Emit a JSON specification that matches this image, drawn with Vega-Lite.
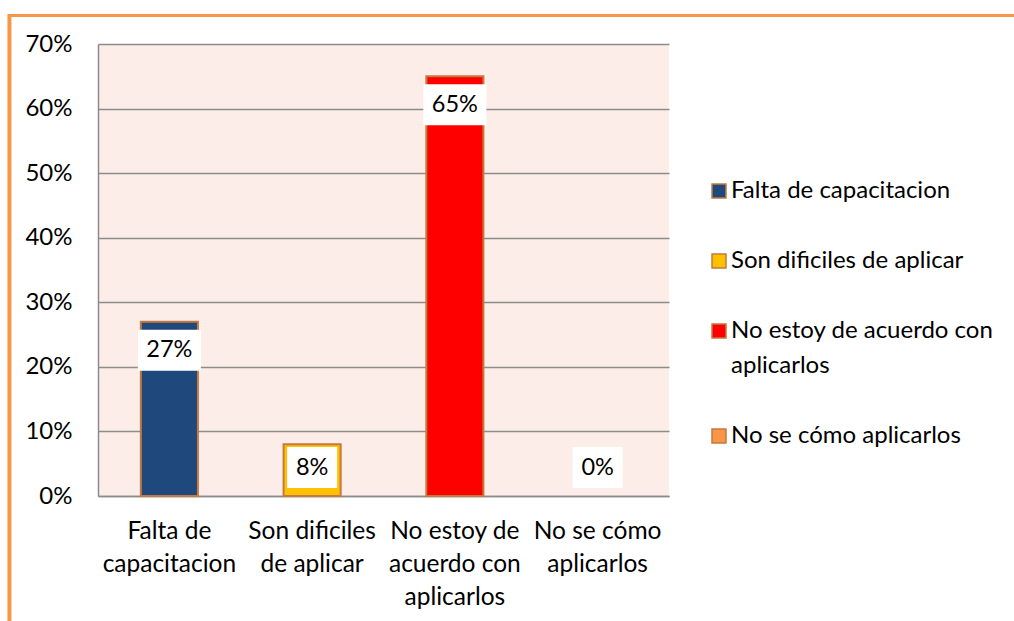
{
  "$schema": "https://vega.github.io/schema/vega-lite/v6.json",
  "autosize": {"type": "none"},
  "width": 571,
  "height": 452,
  "padding": {"left": 98, "top": 44, "right": 345, "bottom": 125},
  "background": "white",
  "config": {
    "font": "Lato",
    "view": {"stroke": null, "fill": "#FCEDE9"},
    "style": {"guide-label": {"lineHeight": 35}}
  },
  "data": {
    "values": [
      {"categoria": "Falta de capacitacion", "valor": 0.27},
      {"categoria": "Son dificiles de aplicar", "valor": 0.08},
      {"categoria": "No estoy de acuerdo con aplicarlos", "valor": 0.65},
      {"categoria": "No se cómo aplicarlos", "valor": 0.0}
    ]
  },
  "layer": [
    {
      "encoding": {
        "x": {
          "field": "categoria",
          "type": "nominal",
          "sort": ["Falta de capacitacion", "Son dificiles de aplicar", "No estoy de acuerdo con aplicarlos", "No se cómo aplicarlos"],
          "scale": {"paddingInner": 0.6, "paddingOuter": 0.3},
          "axis": {
            "title": null,
            "labelAngle": 0,
            "ticks": false,
            "domain": true,
            "domainColor": "#8C8C8C",
            "domainWidth": 1.5,
            "labelFont": "Lato",
            "labelFontSize": 24.5,
            "labelColor": "#000000",
            "labelPadding": 23.5,
            "labelLineHeight": 33,
            "labelLimit": 0,
            "labelExpr": "datum.value == 'Falta de capacitacion' ? ['Falta de', 'capacitacion'] : datum.value == 'Son dificiles de aplicar' ? ['Son dificiles', 'de aplicar'] : datum.value == 'No estoy de acuerdo con aplicarlos' ? ['No estoy de', 'acuerdo con', 'aplicarlos'] : ['No se cómo', 'aplicarlos']"
          }
        }
      },
      "layer": [
        {
          "mark": {"type": "bar", "strokeWidth": 2},
          "encoding": {
            "y": {
              "field": "valor",
              "type": "quantitative",
              "scale": {"domain": [0, 0.7], "nice": false},
              "axis": {
                "title": null,
                "format": ".0%",
                "values": [0, 0.1, 0.2, 0.3, 0.4, 0.5, 0.6, 0.7],
                "ticks": false,
                "grid": true,
                "gridColor": "#8C8C8C",
                "gridWidth": 1.5,
                "domain": true,
                "domainColor": "#8C8C8C",
                "domainWidth": 1.5,
                "labelFont": "Lato",
                "labelFontSize": 24,
                "labelColor": "#000000",
                "labelPadding": 26
              }
            },
            "stroke": {"condition": {"test": "datum.valor == 0", "value": "transparent"}, "value": "#C47A3E"},
            "color": {
              "field": "categoria",
              "type": "nominal",
              "scale": {
                "domain": ["Falta de capacitacion", "Son dificiles de aplicar", "No estoy de acuerdo con aplicarlos", "No se cómo aplicarlos"],
                "range": ["#1F497D", "#FFC000", "#FF0000", "#F79646"]
              },
              "legend": {
                "title": null,
                "orient": "none",
                "legendX": 609,
                "legendY": 135,
                "padding": 0,
                "symbolType": "square",
                "symbolSize": 196,
                "symbolStrokeColor": "#C47A3E",
                "symbolStrokeWidth": 1.5,
                "symbolOpacity": 1,
                "labelFont": "Lato",
                "labelFontSize": 24,
                "labelColor": "#000000",
                "labelOffset": 0,
                "labelLimit": 0,
                "rowPadding": 46,
                "labelExpr": "datum.value == 'No estoy de acuerdo con aplicarlos' ? ['No estoy de acuerdo con', 'aplicarlos'] : datum.value"
              }
            }
          }
        },
        {
          "transform": [{"filter": "datum.valor >= 0.1"}],
          "mark": {"type": "point", "shape": "M-1,-0.651L1,-0.651L1,0.651L-1,0.651Z", "size": 3969, "filled": true, "fill": "white", "opacity": 1, "strokeWidth": 0, "yOffset": 28.5},
          "encoding": {"y": {"field": "valor", "type": "quantitative"}}
        },
        {
          "transform": [{"filter": "datum.valor >= 0.1"}],
          "mark": {"type": "text", "font": "Lato", "fontSize": 23.5, "color": "#000000", "baseline": "middle", "align": "center", "yOffset": 28.5},
          "encoding": {
            "y": {"field": "valor", "type": "quantitative"},
            "text": {"field": "valor", "type": "quantitative", "format": ".0%"}
          }
        },
        {
          "transform": [{"filter": "datum.valor < 0.1"}],
          "mark": {"type": "point", "shape": "M-1,-0.82L1,-0.82L1,0.82L-1,0.82Z", "size": 2500, "filled": true, "fill": "white", "opacity": 1, "strokeWidth": 0},
          "encoding": {"y": {"datum": 0.044, "type": "quantitative"}}
        },
        {
          "transform": [{"filter": "datum.valor < 0.1"}],
          "mark": {"type": "text", "font": "Lato", "fontSize": 23.5, "color": "#000000", "baseline": "middle", "align": "center"},
          "encoding": {
            "y": {"datum": 0.044, "type": "quantitative"},
            "text": {"field": "valor", "type": "quantitative", "format": ".0%"}
          }
        }
      ]
    },
    {
      "data": {"values": [{}]},
      "mark": {"type": "rule", "color": "#F79646", "strokeWidth": 3, "strokeCap": "butt"},
      "encoding": {
        "x": {"datum": -0.1577, "type": "quantitative", "scale": {"domain": [0, 1], "nice": false, "zero": false}, "axis": null},
        "x2": {"datum": 1.7},
        "y": {"datum": 1.063, "type": "quantitative", "scale": {"domain": [0, 1], "nice": false, "zero": false}, "axis": null}
      }
    },
    {
      "data": {"values": [{}]},
      "mark": {"type": "rule", "color": "#F79646", "strokeWidth": 4, "strokeCap": "butt"},
      "encoding": {
        "x": {"datum": -0.1551, "type": "quantitative", "scale": {"domain": [0, 1], "nice": false, "zero": false}, "axis": null},
        "y": {"datum": 1.066, "type": "quantitative", "scale": {"domain": [0, 1], "nice": false, "zero": false}, "axis": null},
        "y2": {"datum": -0.3}
      }
    }
  ],
  "resolve": {"scale": {"x": "independent", "y": "independent"}, "axis": {"x": "independent", "y": "independent"}}
}
